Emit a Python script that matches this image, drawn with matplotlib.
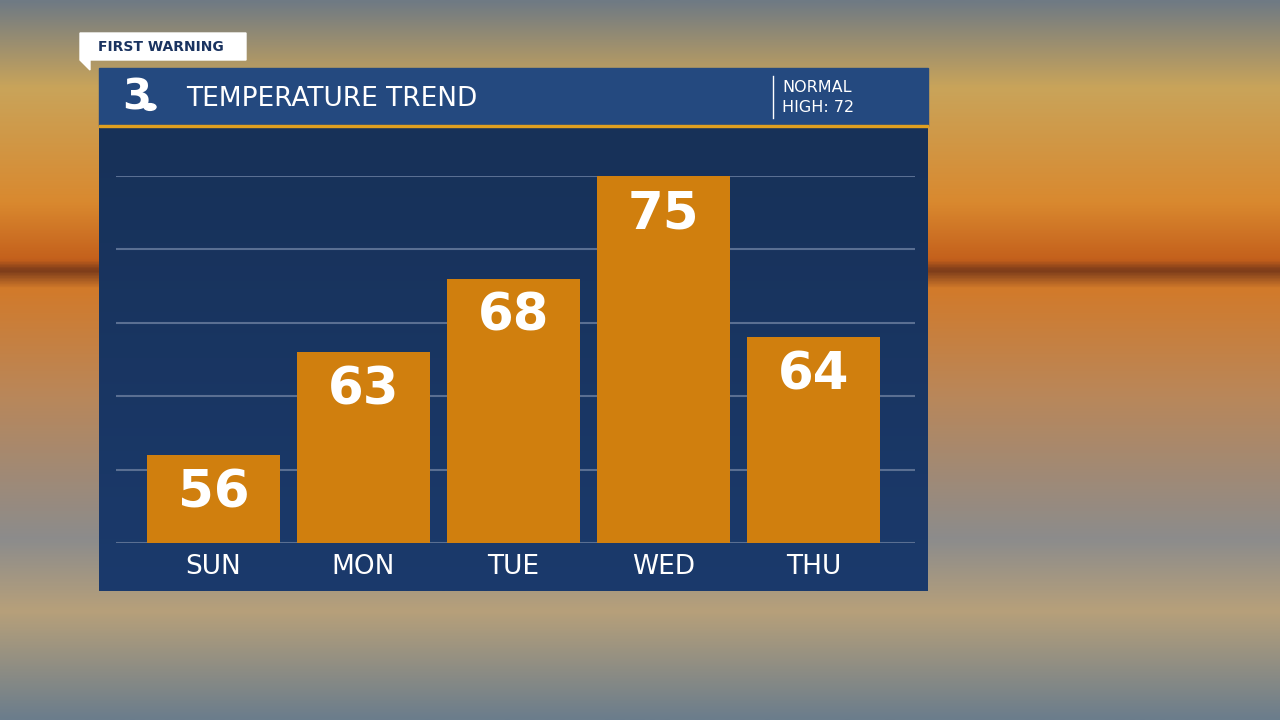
import matplotlib
matplotlib.use("Agg")
import matplotlib.pyplot as plt
import numpy as np
from matplotlib.patches import Rectangle, Polygon
from matplotlib.colors import LinearSegmentedColormap

days = ["SUN", "MON", "TUE", "WED", "THU"]
temps = [56, 63, 68, 75, 64]
title = "TEMPERATURE TREND"
normal_label = ["NORMAL", "HIGH: 72"]

W, H = 1280, 720
fig = plt.figure(figsize=(12.8, 7.2), dpi=100)
F = "DejaVu Sans"

bg = fig.add_axes([0, 0, 1, 1]); bg.axis("off")
stops = [(0.0, "#6f7a84"), (0.12, "#c9a45a"), (0.28, "#d9892f"), (0.36, "#c4601c"),
         (0.375, "#7a3a1a"), (0.40, "#d27a2a"), (0.55, "#b9875a"), (0.75, "#8c8c8c"),
         (0.85, "#b7a07a"), (1.0, "#6b7d8c")]
cmap = LinearSegmentedColormap.from_list("bg", stops)
grad = np.linspace(0, 1, 256).reshape(-1, 1)
bg.imshow(grad, aspect="auto", cmap=cmap, extent=[0, 1, 0, 1], origin="upper")
bg.set_xlim(0, 1); bg.set_ylim(0, 1)

def fx(x): return x / W
def fy(y): return 1 - y / H

pan = LinearSegmentedColormap.from_list("p", ["#173158", "#1b3a6c"])
bg.imshow(grad, aspect="auto", cmap=pan, extent=[fx(99), fx(928), fy(591), fy(126)], origin="upper", zorder=2)
bg.add_patch(Rectangle((fx(99), fy(126)), fx(928 - 99), (126 - 68) / H, color="#24497f", zorder=3))
bg.add_patch(Rectangle((fx(99), fy(127)), fx(928 - 99), 2 / H, color="#e0a020", zorder=4))
bg.plot([fx(773), fx(773)], [fy(76), fy(118)], color="white", lw=1, zorder=5)
bg.text(fx(186), fy(99), title, color="white", fontsize=19, va="center", family=F, zorder=5)
bg.text(fx(782), fy(87), normal_label[0], color="white", fontsize=11.5, va="center", family=F, zorder=5)
bg.text(fx(782), fy(107), normal_label[1], color="white", fontsize=11.5, va="center", family=F, zorder=5)
bg.text(fx(137), fy(97), "3", color="white", fontsize=30, fontweight="bold", ha="center", va="center", family=F, zorder=5)
bg.add_patch(plt.Circle((fx(150), fy(107)), 6 / W, color="white", zorder=6))
bg.add_patch(Polygon([(fx(80), fy(33)), (fx(246), fy(33)), (fx(246), fy(60)), (fx(90), fy(60)), (fx(90), fy(70)), (fx(80), fy(60))],
                     closed=True, color="white", zorder=5))
bg.text(fx(98), fy(47), "FIRST WARNING", color="#1a3360", fontsize=10, fontweight="bold", va="center", family=F, zorder=6)

ax = fig.add_axes([fx(116), fy(543), fx(915 - 116), (543 - 176) / H])
ax.set_facecolor("none")
x = np.arange(len(days))
ax.set_xlim((116 - 213.5) / 150, (915 - 213.5) / 150)
ax.set_ylim(50, 75)
for g in range(50, 76, 5):
    ax.axhline(g, color="#5a6f92", lw=1.5, zorder=1)
ax.bar(x, np.array(temps) - 50, bottom=50, width=133 / 150, color="#d07f0e", zorder=2)
for xi, t in zip(x, temps):
    ax.text(xi, t - 2.6, str(t), color="white", fontsize=37, fontweight="bold", ha="center", va="center", family=F, zorder=3)
    ax.text(xi, 48.35, days[xi], color="white", fontsize=19, ha="center", va="center", family=F, clip_on=False)
ax.axis("off")

fig.savefig("out.png", dpi=100)
